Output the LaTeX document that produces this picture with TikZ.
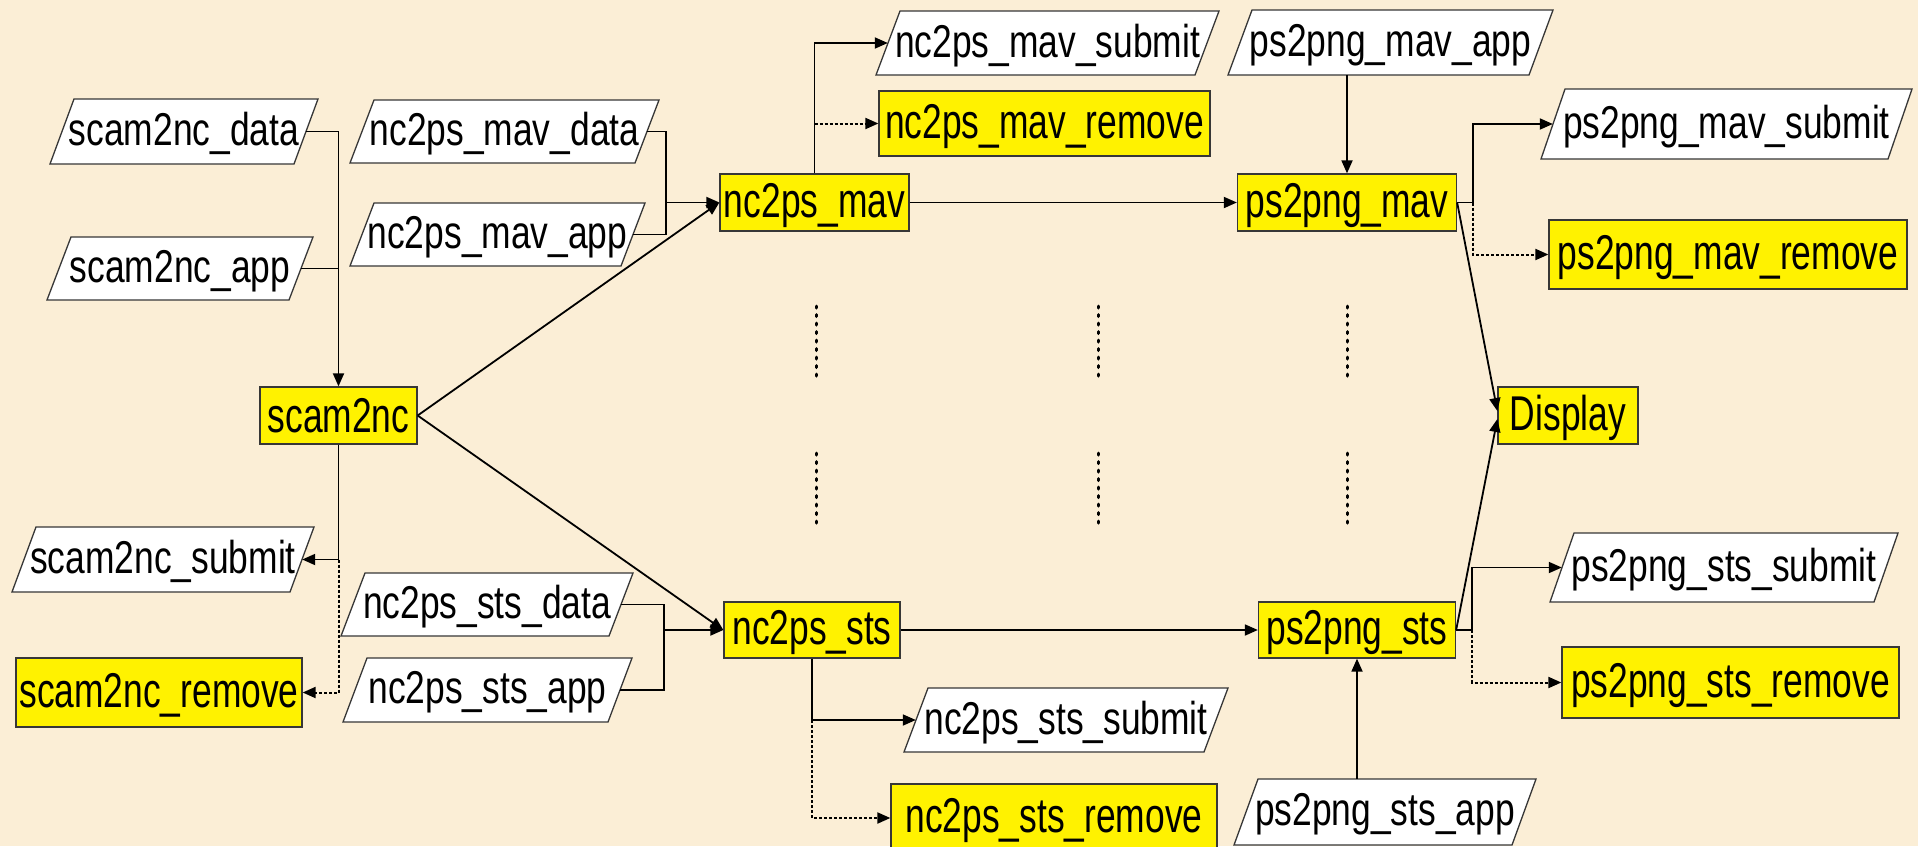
\documentclass[tikz,border=0pt]{standalone}
\usepackage{fontspec}
\setmainfont{Liberation Sans}
\usetikzlibrary{arrows.meta}
% vertically stretched label text, with a shallow depth so it sits a little low
\newcommand\vs[2]{\raisebox{0pt}[\height][.5\depth]{\scalebox{1}[#1]{#2}}}
\newcommand\wl[1]{\vs{1.3}{#1}}
\newcommand\yl[1]{\vs{1.38}{#1}}
\definecolor{paper}{RGB}{251,238,214}
\definecolor{boxline}{RGB}{55,55,55}

\begin{document}
\begin{tikzpicture}[x=1pt, y=-1pt,
  every node/.style={inner sep=0pt, font=\fontsize{35.4}{40}\selectfont},
  % slanted data box: the node is its bounding rectangle, the parallelogram is drawn inside it
  databox/.style={rectangle, path picture={
      \draw[draw=boxline, fill=white, line width=1.3pt]
        ([xshift=25pt,yshift=-1pt]path picture bounding box.north west)
        -- ([xshift=-1pt,yshift=-1pt]path picture bounding box.north east)
        -- ([xshift=-25pt,yshift=1pt]path picture bounding box.south east)
        -- ([xshift=1pt,yshift=1pt]path picture bounding box.south west) -- cycle;}},
  taskbox/.style={rectangle, draw=boxline, fill=yellow, line width=1.3pt},
  tip/.style={-{Triangle[length=13pt,width=11pt]}},
  link/.style={line width=1.8pt, tip},
  plain/.style={line width=1.8pt},
  weak/.style={line width=2pt, dash pattern=on 3pt off 2pt, tip},
  gap/.style={line width=3pt, line cap=round, dash pattern=on 2pt off 6.5pt}
]
\useasboundingbox (0,0) rectangle (1918,846);
\fill[paper] (0,0) rectangle (1918,846);

% ---- data / application inputs and submit outputs (parallelograms)
\node[databox, minimum width=270pt, minimum height=67pt] (sdata) at (184,131.5) {\wl{scam2nc\_data}};
\node[databox, minimum width=268pt, minimum height=65pt] (sapp) at (180,268.5) {\wl{scam2nc\_app}};
\node[databox, minimum width=304pt, minimum height=67pt] (ssub) at (163,559.5) {\wl{scam2nc\_submit}};
\node[databox, minimum width=311pt, minimum height=65pt] (mdata) at (504.5,131.5) {\wl{nc2ps\_mav\_data}};
\node[databox, minimum width=297pt, minimum height=65pt] (mapp) at (497.5,234.5) {\wl{nc2ps\_mav\_app}};
\node[databox, minimum width=345pt, minimum height=66pt] (msub) at (1047.5,43) {\wl{nc2ps\_mav\_submit}};
\node[databox, minimum width=327pt, minimum height=67pt] (pmapp) at (1390.5,42.5) {\wl{ps2png\_mav\_app}};
\node[databox, minimum width=373pt, minimum height=72pt] (pmsub) at (1726.5,124) {\wl{ps2png\_mav\_submit}};
\node[databox, minimum width=294pt, minimum height=65pt] (tdata) at (487,604.5) {\wl{nc2ps\_sts\_data}};
\node[databox, minimum width=291pt, minimum height=66pt] (tapp) at (487.5,690) {\wl{nc2ps\_sts\_app}};
\node[databox, minimum width=326pt, minimum height=66pt] (tsub) at (1066,720) {\wl{nc2ps\_sts\_submit}};
\node[databox, minimum width=304pt, minimum height=68pt] (psapp) at (1385,812) {\wl{ps2png\_sts\_app}};
\node[databox, minimum width=350pt, minimum height=71pt] (pssub) at (1724,567.5) {\wl{ps2png\_sts\_submit}};

% ---- tasks (yellow boxes)
\node[taskbox, minimum width=157pt, minimum height=57pt] (scam2nc) at (338.5,415.5) {\yl{scam2nc}};
\node[taskbox, minimum width=286pt, minimum height=69pt] (srem) at (159,692.5) {\yl{scam2nc\_remove}};
\node[taskbox, minimum width=189pt, minimum height=57pt] (nmav) at (814.5,202.5) {\yl{nc2ps\_mav}};
\node[taskbox, minimum width=331pt, minimum height=65pt] (nmrem) at (1044.5,123.5) {\yl{nc2ps\_mav\_remove}};
\node[taskbox, minimum width=176pt, minimum height=56pt] (nsts) at (812,630) {\yl{nc2ps\_sts}};
\node[taskbox, minimum width=326pt, minimum height=68pt] (nsrem) at (1054,818) {\yl{nc2ps\_sts\_remove}};
\node[taskbox, minimum width=219pt, minimum height=57pt] (pmav) at (1347,202.5) {\yl{ps2png\_mav}};
\node[taskbox, minimum width=358pt, minimum height=69pt] (pmrem) at (1728,254.5) {\yl{ps2png\_mav\_remove}};
\node[taskbox, minimum width=197pt, minimum height=56pt] (psts) at (1357,630) {\yl{ps2png\_sts}};
\node[taskbox, minimum width=337pt, minimum height=71pt] (psrem) at (1730.5,682.5) {\yl{ps2png\_sts\_remove}};
\node[taskbox, minimum width=140pt, minimum height=57pt] (disp) at (1568,415.5) {\yl{Display}};

% ---- junction points
\coordinate (mj) at (666,202.5);
\coordinate (tj) at (664,630);
\coordinate (pmj) at ([xshift=16pt]pmav.east);
\coordinate (psj) at ([xshift=16pt]psts.east);

% ---- scam2nc
\draw[link] ([xshift=-13pt]sdata.east) -| (scam2nc.north);
\draw[plain] ([xshift=-13pt]sapp.east) -- (sapp.east -| scam2nc.north);
\draw[link] (scam2nc.south) |- ([xshift=-13pt]ssub.east);
\draw[weak] (scam2nc.south |- ssub.east) |- (srem.east);
\draw[link] (scam2nc.east) -- (nmav.west);
\draw[link] (scam2nc.east) -- (nsts.west);

% ---- nc2ps_mav
\draw[plain] ([xshift=-13pt]mdata.east) -| (mj);
\draw[plain] ([xshift=-13pt]mapp.east) -| (mj);
\draw[link] (mj) -- (nmav.west);
\draw[link] (nmav.north) |- ([xshift=13pt]msub.west);
\draw[weak] (nmav.north |- nmrem.west) -- (nmrem.west);
\draw[link] (nmav.east) -- (pmav.west);

% ---- nc2ps_sts
\draw[plain] ([xshift=-13pt]tdata.east) -| (tj);
\draw[plain] ([xshift=-13pt]tapp.east) -| (tj);
\draw[link] (tj) -- (nsts.west);
\draw[link] (nsts.south) |- ([xshift=13pt]tsub.west);
\draw[weak] (nsts.south |- tsub.west) |- (nsrem.west);
\draw[link] (nsts.east) -- (psts.west);

% ---- ps2png_mav
\draw[link] ([yshift=1pt]pmav.north |- pmapp.south) -- (pmav.north);
\draw[plain] (pmav.east) -- (pmj);
\draw[link] (pmj) |- ([xshift=13pt]pmsub.west);
\draw[weak] (pmj) |- (pmrem.west);
\draw[link] (pmav.east) -- ([yshift=4.5pt]disp.west);

% ---- ps2png_sts
\draw[link] ([yshift=-1pt]psts.south |- psapp.north) -- (psts.south);
\draw[plain] (psts.east) -- (psj);
\draw[link] (psj) |- ([xshift=13pt]pssub.west);
\draw[weak] (psj) |- (psrem.west);
\draw[link] (psts.east) -- ([yshift=-3.5pt]disp.west);

% ---- elided parallel branches
\foreach \gx in {816,1098,1347} {
  \draw[gap] (\gx,306) -- (\gx,377);
  \draw[gap] (\gx,453) -- (\gx,523);
}
\end{tikzpicture}
\end{document}
